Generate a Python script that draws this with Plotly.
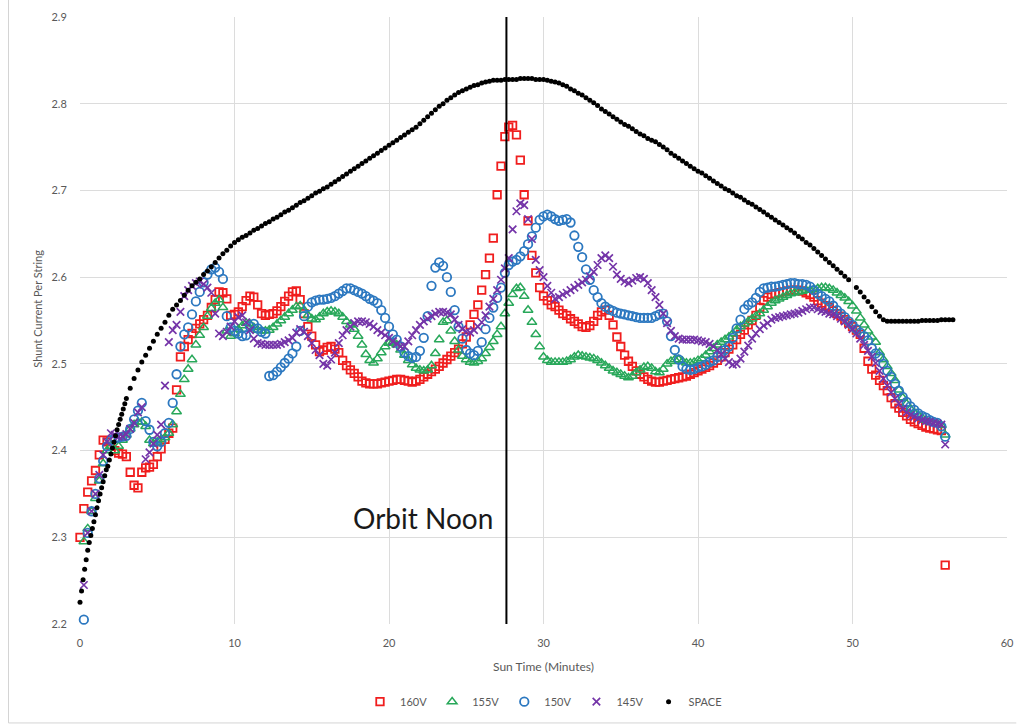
import numpy as np
import plotly.graph_objects as go

# Shunt current per string, sampled every 0.25 min of sun time.
# 160V starts at t = 0; the other strings start at t = 0.25.
V160 = [
    2.300, 2.333, 2.352, 2.365, 2.377, 2.395, 2.412, 2.410,  # 0
    2.405, 2.400, 2.397, 2.396, 2.393, 2.375, 2.360, 2.357,  # 2
    2.375, 2.380, 2.381, 2.384, 2.393, 2.402, 2.413, 2.420,  # 4
    2.426, 2.470, 2.508, 2.520, 2.528, 2.535, 2.541, 2.546,  # 6
    2.551, 2.556, 2.565, 2.574, 2.583, 2.582, 2.575, 2.556,  # 8
    2.557, 2.560, 2.566, 2.573, 2.578, 2.577, 2.568, 2.558,  # 10
    2.556, 2.557, 2.558, 2.561, 2.566, 2.572, 2.578, 2.583,  # 12
    2.584, 2.574, 2.558, 2.543, 2.532, 2.522, 2.514, 2.516,  # 14
    2.519, 2.520, 2.517, 2.513, 2.504, 2.498, 2.493, 2.489,  # 16
    2.485, 2.480, 2.478, 2.477, 2.477, 2.477, 2.478, 2.479,  # 18
    2.480, 2.481, 2.482, 2.482, 2.481, 2.480, 2.479, 2.480,  # 20
    2.482, 2.485, 2.488, 2.491, 2.494, 2.497, 2.501, 2.505,  # 22
    2.509, 2.513, 2.517, 2.523, 2.531, 2.545, 2.557, 2.568,  # 24
    2.585, 2.603, 2.622, 2.645, 2.695, 2.728, 2.762, 2.773,  # 26
    2.775, 2.764, 2.735, 2.695, 2.665, 2.625, 2.605, 2.588,  # 28
    2.578, 2.573, 2.568, 2.566, 2.562, 2.558, 2.556, 2.552,  # 30
    2.549, 2.546, 2.543, 2.542, 2.544, 2.549, 2.556, 2.560,  # 32
    2.562, 2.556, 2.545, 2.531, 2.520, 2.510, 2.503, 2.497,  # 34
    2.492, 2.488, 2.485, 2.482, 2.480, 2.479, 2.479, 2.480,  # 36
    2.481, 2.482, 2.483, 2.484, 2.485, 2.486, 2.488, 2.490,  # 38
    2.492, 2.494, 2.496, 2.498, 2.501, 2.504, 2.508, 2.513,  # 40
    2.517, 2.522, 2.528, 2.534, 2.539, 2.545, 2.550, 2.556,  # 42
    2.565, 2.573, 2.577, 2.580, 2.581, 2.582, 2.583, 2.584,  # 44
    2.585, 2.585, 2.585, 2.584, 2.582, 2.580, 2.577, 2.573,  # 46
    2.570, 2.567, 2.565, 2.561, 2.558, 2.555, 2.551, 2.547,  # 48
    2.543, 2.539, 2.534, 2.518, 2.503, 2.494, 2.487, 2.481,  # 50
    2.475, 2.469, 2.461, 2.454, 2.449, 2.444, 2.440, 2.436,  # 52
    2.433, 2.431, 2.429, 2.427, 2.426, 2.425, 2.424, 2.423,  # 54
    2.268,                                                   # 56
]

V155 = [
    2.295, 2.310, 2.330, 2.345, 2.365, 2.385, 2.400,         # 0.25
    2.405, 2.400, 2.405, 2.412, 2.418, 2.425, 2.430, 2.433,  # 2
    2.433, 2.428, 2.412, 2.408, 2.410, 2.413, 2.415, 2.420,  # 4
    2.430, 2.445, 2.465, 2.482, 2.494, 2.505, 2.522, 2.533,  # 6
    2.542, 2.555, 2.564, 2.570, 2.574, 2.565, 2.538, 2.532,  # 8
    2.535, 2.540, 2.544, 2.547, 2.546, 2.542, 2.539, 2.538,  # 10
    2.538, 2.539, 2.542, 2.546, 2.550, 2.554, 2.558, 2.562,  # 12
    2.566, 2.567, 2.562, 2.556, 2.552, 2.551, 2.554, 2.558,  # 14
    2.560, 2.561, 2.560, 2.558, 2.554, 2.549, 2.545, 2.540,  # 16
    2.532, 2.522, 2.511, 2.504, 2.501, 2.506, 2.513, 2.520,  # 18
    2.524, 2.525, 2.522, 2.516, 2.510, 2.504, 2.499, 2.495,  # 20
    2.493, 2.492, 2.493, 2.498, 2.512, 2.528, 2.548, 2.550,  # 22
    2.538, 2.526, 2.516, 2.509, 2.505, 2.502, 2.501, 2.503,  # 24
    2.506, 2.512, 2.519, 2.526, 2.534, 2.543, 2.558, 2.570,  # 26
    2.580, 2.587, 2.588, 2.578, 2.562, 2.548, 2.534, 2.520,  # 28
    2.508, 2.504, 2.502, 2.502, 2.502, 2.502, 2.503, 2.505,  # 30
    2.508, 2.510, 2.509, 2.508, 2.507, 2.506, 2.504, 2.501,  # 32
    2.498, 2.495, 2.492, 2.490, 2.488, 2.486, 2.484, 2.486,  # 34
    2.490, 2.493, 2.496, 2.497, 2.495, 2.491, 2.490, 2.494,  # 36
    2.500, 2.503, 2.505, 2.505, 2.503, 2.501, 2.501, 2.502,  # 38
    2.504, 2.506, 2.510, 2.514, 2.518, 2.522, 2.525, 2.528,  # 40
    2.531, 2.535, 2.539, 2.543, 2.546, 2.549, 2.552, 2.555,  # 42
    2.558, 2.562, 2.566, 2.570, 2.573, 2.575, 2.577, 2.579,  # 44
    2.581, 2.582, 2.583, 2.584, 2.585, 2.585, 2.586, 2.587,  # 46
    2.588, 2.588, 2.587, 2.585, 2.582, 2.579, 2.576, 2.572,  # 48
    2.567, 2.561, 2.553, 2.545, 2.538, 2.531, 2.525, 2.513,  # 50
    2.505, 2.497, 2.489, 2.481, 2.470, 2.461, 2.454, 2.448,  # 52
    2.444, 2.441, 2.438, 2.435, 2.433, 2.432, 2.431, 2.429,  # 54
    2.418,                                                   # 56
]

V150 = [
    2.205, 2.305, 2.330, 2.350, 2.368, 2.388, 2.405,         # 0.25
    2.412, 2.414, 2.415, 2.416, 2.417, 2.425, 2.436, 2.446,  # 2
    2.455, 2.434, 2.424, 2.410, 2.405, 2.410, 2.420, 2.432,  # 4
    2.455, 2.488, 2.520, 2.534, 2.542, 2.557, 2.572, 2.583,  # 6
    2.594, 2.603, 2.609, 2.611, 2.606, 2.598, 2.555, 2.542,  # 8
    2.538, 2.535, 2.532, 2.533, 2.543, 2.546, 2.541, 2.537,  # 10
    2.535, 2.486, 2.487, 2.491, 2.496, 2.501, 2.506, 2.512,  # 12
    2.520, 2.538, 2.555, 2.566, 2.571, 2.573, 2.574, 2.574,  # 14
    2.575, 2.576, 2.578, 2.581, 2.584, 2.587, 2.587, 2.585,  # 16
    2.583, 2.581, 2.578, 2.575, 2.573, 2.570, 2.562, 2.553,  # 18
    2.543, 2.534, 2.528, 2.520, 2.513, 2.509, 2.507, 2.508,  # 20
    2.515, 2.530, 2.555, 2.590, 2.611, 2.617, 2.613, 2.600,  # 22
    2.583, 2.562, 2.543, 2.529, 2.516, 2.512, 2.510, 2.515,  # 24
    2.525, 2.540, 2.553, 2.565, 2.576, 2.588, 2.605, 2.614,  # 26
    2.618, 2.620, 2.624, 2.630, 2.638, 2.647, 2.657, 2.666,  # 28
    2.670, 2.672, 2.670, 2.667, 2.665, 2.666, 2.667, 2.663,  # 30
    2.648, 2.635, 2.623, 2.609, 2.597, 2.585, 2.577, 2.570,  # 32
    2.566, 2.563, 2.561, 2.559, 2.558, 2.557, 2.556, 2.555,  # 34
    2.554, 2.553, 2.553, 2.553, 2.553, 2.555, 2.557, 2.558,  # 36
    2.549, 2.532, 2.516, 2.505, 2.497, 2.494, 2.493, 2.494,  # 38
    2.496, 2.497, 2.499, 2.502, 2.504, 2.508, 2.512, 2.516,  # 40
    2.520, 2.530, 2.541, 2.551, 2.563, 2.568, 2.571, 2.576,  # 42
    2.583, 2.587, 2.588, 2.589, 2.589, 2.590, 2.591, 2.592,  # 44
    2.593, 2.593, 2.592, 2.592, 2.591, 2.589, 2.585, 2.581,  # 46
    2.578, 2.575, 2.572, 2.567, 2.562, 2.558, 2.554, 2.549,  # 48
    2.545, 2.540, 2.536, 2.532, 2.527, 2.518, 2.512, 2.508,  # 50
    2.500, 2.492, 2.485, 2.477, 2.469, 2.462, 2.456, 2.451,  # 52
    2.447, 2.443, 2.440, 2.438, 2.435, 2.433, 2.432, 2.428,  # 54
    2.416,                                                   # 56
]

V145 = [
    2.245, 2.305, 2.330, 2.350, 2.372, 2.395, 2.410,         # 0.25
    2.420, 2.418, 2.416, 2.416, 2.419, 2.425, 2.432, 2.444,  # 2
    2.450, 2.390, 2.398, 2.408, 2.418, 2.430, 2.475, 2.525,  # 4
    2.539, 2.545, 2.560, 2.578, 2.585, 2.590, 2.593, 2.595,  # 6
    2.592, 2.588, 2.582, 2.558, 2.535, 2.532, 2.537, 2.543,  # 8
    2.549, 2.554, 2.556, 2.548, 2.539, 2.529, 2.524, 2.523,  # 10
    2.522, 2.522, 2.522, 2.522, 2.523, 2.525, 2.527, 2.530,  # 12
    2.536, 2.540, 2.537, 2.532, 2.524, 2.516, 2.510, 2.500,  # 14
    2.498, 2.505, 2.513, 2.524, 2.533, 2.539, 2.543, 2.547,  # 16
    2.549, 2.549, 2.548, 2.546, 2.543, 2.539, 2.536, 2.533,  # 18
    2.530, 2.526, 2.523, 2.520, 2.520, 2.526, 2.533, 2.539,  # 20
    2.545, 2.549, 2.552, 2.555, 2.558, 2.560, 2.560, 2.559,  # 22
    2.557, 2.551, 2.545, 2.540, 2.537, 2.536, 2.539, 2.543,  # 24
    2.548, 2.556, 2.566, 2.575, 2.585, 2.597, 2.610, 2.622,  # 26
    2.655, 2.676, 2.685, 2.683, 2.667, 2.644, 2.620, 2.608,  # 28
    2.600, 2.590, 2.582, 2.575, 2.577, 2.580, 2.582, 2.585,  # 30
    2.588, 2.591, 2.594, 2.597, 2.601, 2.606, 2.614, 2.622,  # 32
    2.625, 2.622, 2.612, 2.603, 2.598, 2.595, 2.593, 2.596,  # 34
    2.599, 2.600, 2.598, 2.593, 2.585, 2.577, 2.568, 2.558,  # 36
    2.547, 2.538, 2.532, 2.529, 2.528, 2.528, 2.528, 2.528,  # 38
    2.527, 2.526, 2.525, 2.523, 2.520, 2.516, 2.511, 2.506,  # 40
    2.502, 2.499, 2.500, 2.506, 2.514, 2.521, 2.529, 2.535,  # 42
    2.540, 2.544, 2.547, 2.551, 2.553, 2.554, 2.555, 2.556,  # 44
    2.557, 2.558, 2.559, 2.561, 2.563, 2.565, 2.565, 2.563,  # 46
    2.561, 2.560, 2.558, 2.557, 2.555, 2.552, 2.549, 2.545,  # 48
    2.540, 2.535, 2.529, 2.522, 2.515, 2.508, 2.501, 2.492,  # 50
    2.483, 2.475, 2.467, 2.460, 2.454, 2.448, 2.444, 2.441,  # 52
    2.439, 2.437, 2.435, 2.434, 2.433, 2.432, 2.431, 2.430,  # 54
    2.407,                                                   # 56
]

# SPACE reference: every 0.1 min up to 2.9 min, then every 0.25 min from 3.0
SPACE_EARLY = [
    2.225, 2.238, 2.251, 2.263, 2.274, 2.285, 2.294, 2.302, 2.310, 2.318,
    2.326, 2.334, 2.342, 2.350, 2.357, 2.364, 2.371, 2.378, 2.382, 2.389,
    2.396, 2.403, 2.410, 2.417, 2.424, 2.430, 2.436, 2.442, 2.448, 2.454,
]
SPACE_MAIN = [
    2.460, 2.472, 2.483, 2.493, 2.502, 2.510, 2.518, 2.526,  # 3
    2.534, 2.541, 2.548, 2.556, 2.563, 2.568, 2.573, 2.579,  # 5
    2.585, 2.590, 2.594, 2.598, 2.603, 2.607, 2.612, 2.617,  # 7
    2.622, 2.627, 2.631, 2.636, 2.640, 2.643, 2.646, 2.648,  # 9
    2.651, 2.654, 2.656, 2.659, 2.662, 2.664, 2.667, 2.669,  # 11
    2.672, 2.675, 2.677, 2.680, 2.683, 2.686, 2.688, 2.691,  # 13
    2.694, 2.697, 2.699, 2.702, 2.704, 2.707, 2.710, 2.713,  # 15
    2.716, 2.719, 2.722, 2.725, 2.728, 2.731, 2.734, 2.737,  # 17
    2.740, 2.743, 2.746, 2.749, 2.752, 2.755, 2.758, 2.761,  # 19
    2.764, 2.767, 2.770, 2.773, 2.777, 2.781, 2.785, 2.789,  # 21
    2.793, 2.797, 2.800, 2.804, 2.807, 2.810, 2.813, 2.815,  # 23
    2.817, 2.819, 2.821, 2.822, 2.824, 2.825, 2.826, 2.827,  # 25
    2.827, 2.827, 2.828, 2.828, 2.828, 2.828, 2.829, 2.829,  # 27
    2.829, 2.829, 2.828, 2.828, 2.828, 2.827, 2.826, 2.825,  # 29
    2.824, 2.822, 2.820, 2.817, 2.815, 2.812, 2.810, 2.807,  # 31
    2.804, 2.801, 2.798, 2.794, 2.791, 2.788, 2.785, 2.782,  # 33
    2.779, 2.776, 2.774, 2.771, 2.768, 2.765, 2.763, 2.760,  # 35
    2.758, 2.756, 2.753, 2.750, 2.747, 2.743, 2.740, 2.737,  # 37
    2.734, 2.731, 2.728, 2.725, 2.722, 2.720, 2.717, 2.714,  # 39
    2.711, 2.708, 2.705, 2.702, 2.700, 2.697, 2.694, 2.692,  # 41
    2.689, 2.686, 2.684, 2.681, 2.678, 2.675, 2.672, 2.669,  # 43
    2.666, 2.663, 2.660, 2.657, 2.654, 2.651, 2.647, 2.644,  # 45
    2.640, 2.637, 2.633, 2.629, 2.625, 2.621, 2.617, 2.613,  # 47
    2.609, 2.605, 2.601, 2.597, None, 2.588, 2.583, 2.577,   # 49 (dropout at 50)
    2.572, 2.566, 2.560, 2.555, 2.551, 2.549, 2.549, 2.549,  # 51
    2.549, 2.549, 2.549, 2.549, 2.549, 2.549, 2.550, 2.550,  # 53
    2.550, 2.550, 2.550, 2.551, 2.551, 2.551, 2.551,         # 55
]

ORBIT_NOON = 27.6
X_TICKS = [0, 10, 20, 30, 40, 50, 60]
Y_TICKS = [2.2, 2.3, 2.4, 2.5, 2.6, 2.7, 2.8, 2.9]

STEP = 0.25
t160 = np.arange(len(V160)) * STEP
t155 = STEP + np.arange(len(V155)) * STEP
t150 = STEP + np.arange(len(V150)) * STEP
t145 = STEP + np.arange(len(V145)) * STEP
t_space = np.concatenate([np.arange(len(SPACE_EARLY)) * 0.1,
                          3.0 + np.arange(len(SPACE_MAIN)) * STEP])
v_space = SPACE_EARLY + SPACE_MAIN

RED = "#f01e1e"
GREEN = "#28a85a"
BLUE = "#2c78c0"
PURPLE = "#7434a8"
GREY = "#595959"
FONT = "Lato"

fig = go.Figure()

fig.add_trace(go.Scatter(
    x=t160, y=V160, mode="markers", name="160V", cliponaxis=False,
    marker=dict(symbol="square-open", size=7.5, color=RED, line=dict(width=1.8, color=RED)),
))
fig.add_trace(go.Scatter(
    x=t155, y=V155, mode="markers", name="155V", cliponaxis=False,
    marker=dict(symbol="triangle-up-open", size=8.5, color=GREEN, line=dict(width=1.5, color=GREEN)),
))
fig.add_trace(go.Scatter(
    x=t150, y=V150, mode="markers", name="150V", cliponaxis=False,
    marker=dict(symbol="circle-open", size=8.5, color=BLUE, line=dict(width=1.8, color=BLUE)),
))
fig.add_trace(go.Scatter(
    x=t145, y=V145, mode="markers", name="145V", cliponaxis=False,
    marker=dict(symbol="x-thin", size=7.5, color=PURPLE, line=dict(width=1.7, color=PURPLE)),
))
fig.add_trace(go.Scatter(
    x=t_space, y=v_space, mode="markers", name="SPACE", cliponaxis=False,
    marker=dict(symbol="circle", size=5, color="black", line=dict(width=0)),
))

# orbit noon marker line and label
fig.add_shape(type="line", xref="x", yref="y", x0=ORBIT_NOON, x1=ORBIT_NOON,
              y0=Y_TICKS[0], y1=Y_TICKS[-1], line=dict(color="black", width=2))
fig.add_annotation(x=22.2, y=2.322, xref="x", yref="y", text="Orbit Noon",
                   showarrow=False, font=dict(family=FONT, size=28, color="#1a1a1a"))

# y-axis title
fig.add_annotation(x=-0.046, y=0.52, xref="paper", yref="paper",
                   text="Shunt Current Per String", textangle=-90, showarrow=False,
                   xanchor="center", yanchor="middle",
                   font=dict(family=FONT, size=11, color=GREY))

# outer chart frame (left and bottom edges)
fig.add_shape(type="line", xref="paper", yref="paper", x0=-0.0771, x1=-0.0771,
              y0=-0.163, y1=1.03, line=dict(color="#d4d4d4", width=1))
fig.add_shape(type="line", xref="paper", yref="paper", x0=-0.0771, x1=1.01,
              y0=-0.163, y1=-0.163, line=dict(color="#d4d4d4", width=1))

fig.update_xaxes(
    range=[X_TICKS[0], X_TICKS[-1]], tickvals=X_TICKS, showgrid=True,
    gridcolor="#dcdcdc", gridwidth=1, zeroline=False, showline=False,
    ticks="outside", ticklen=9, tickcolor="rgba(0,0,0,0)",
    tickfont=dict(family=FONT, size=11, color=GREY),
    title=dict(text="Sun Time (Minutes)", standoff=14,
               font=dict(family=FONT, size=12, color=GREY)),
)
fig.update_yaxes(
    range=[Y_TICKS[0], Y_TICKS[-1]], tickvals=Y_TICKS, tickformat=".1f", showgrid=True,
    gridcolor="#dcdcdc", gridwidth=1, zeroline=False, showline=False,
    ticks="outside", ticklen=10, tickcolor="rgba(0,0,0,0)",
    tickfont=dict(family=FONT, size=11, color=GREY),
)

fig.update_layout(
    width=1023, height=727,
    margin=dict(l=80, r=9, t=17, b=103),
    paper_bgcolor="white", plot_bgcolor="white",
    font=dict(family=FONT, color=GREY),
    showlegend=True,
    legend=dict(orientation="h", x=0.5, xanchor="center", y=-0.128, yanchor="middle",
                font=dict(family=FONT, size=11, color=GREY), itemwidth=30,
                bgcolor="rgba(0,0,0,0)", traceorder="normal"),
)

fig.write_html("out.html")
